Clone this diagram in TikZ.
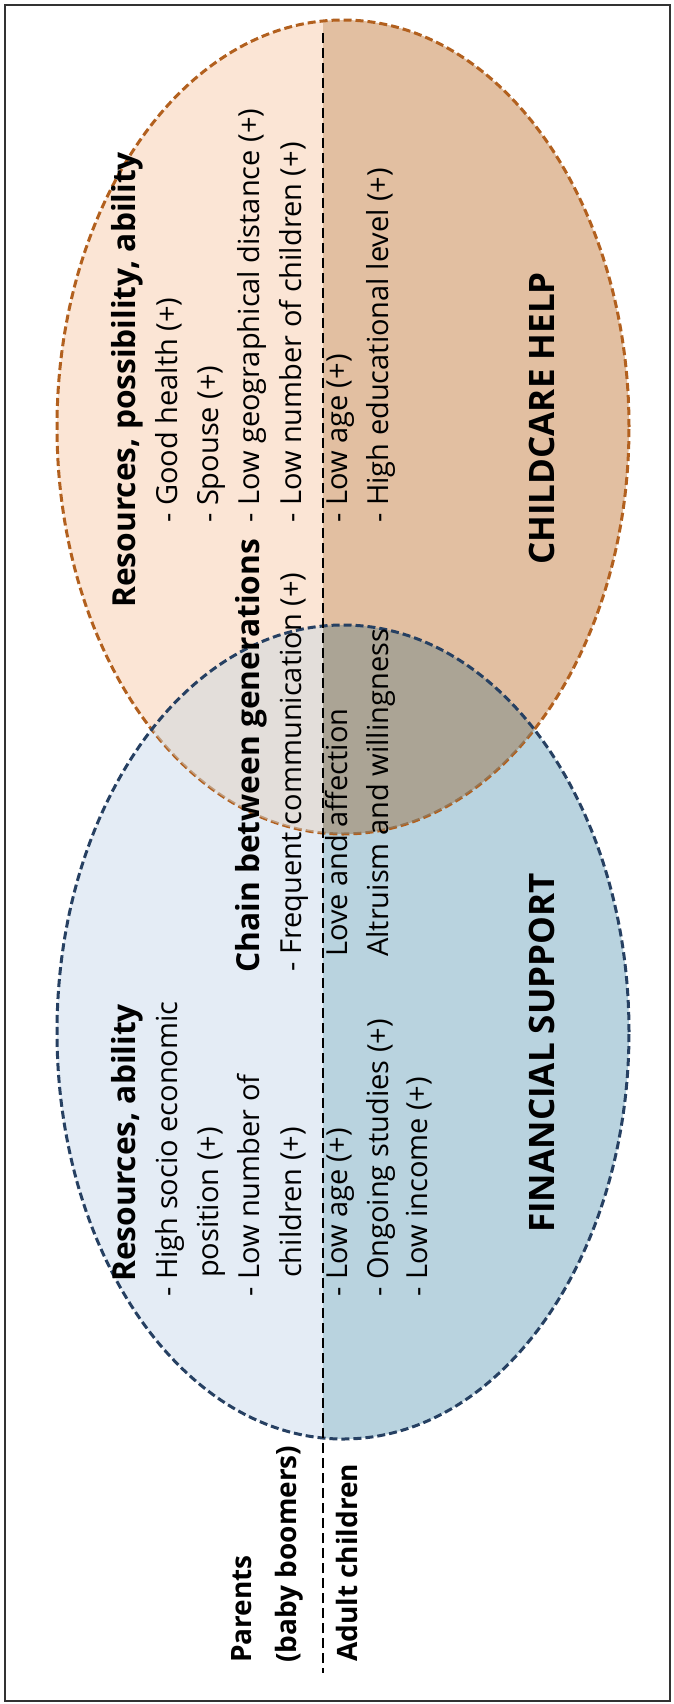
\documentclass[tikz,border=0pt]{standalone}
\usepackage{fontspec}
\setmainfont{Open Sans}
\definecolor{brL}{RGB}{251,229,213}
\definecolor{brD}{RGB}{226,191,161}
\definecolor{blL}{RGB}{228,236,245}
\definecolor{blD}{RGB}{185,211,223}
\definecolor{lnL}{RGB}{205,217,223}
\definecolor{lnD}{RGB}{118,139,139}
\definecolor{brO}{RGB}{178,96,30}
\definecolor{blO}{RGB}{38,64,98}
\begin{document}
\begin{tikzpicture}[x=1pt,y=1pt,
  body/.style={rotate=90, anchor=mid west, inner sep=0pt, font=\fontsize{29}{35}\selectfont},
  head/.style={rotate=90, anchor=mid west, inner sep=0pt, font=\fontsize{31.7}{38}\selectfont\bfseries},
  big/.style={rotate=90, anchor=mid west, inner sep=0pt, font=\fontsize{35}{42}\selectfont\bfseries},
  lab/.style={rotate=90, anchor=mid west, inner sep=0pt, font=\fontsize{28}{34}\selectfont\bfseries},
  outl/.style={line width=3pt, dash pattern=on 8pt off 4pt},
  divl/.style={line width=2.5pt, dash pattern=on 10pt off 5pt, black}]
\fill[white] (0,0) rectangle (674,-1704);
\useasboundingbox (0,0) rectangle (674,-1704);
% blue ellipse halves
\begin{scope}
\clip (343,-1032) ellipse [x radius=286, y radius=407];
\fill[blL] (0,-600) rectangle (323,-1500);
\fill[blD] (323,-600) rectangle (674,-1500);
\end{scope}
% brown ellipse halves
\begin{scope}
\clip (343,-427) ellipse [x radius=286, y radius=407];
\fill[brL] (0,0) rectangle (323,-900);
\fill[brD] (323,0) rectangle (674,-900);
\end{scope}
\draw[brO, outl] (343,-427) ellipse [x radius=286, y radius=407];
% lens
\begin{scope}
\clip (343,-427) ellipse [x radius=286, y radius=407];
\clip (343,-1032) ellipse [x radius=286, y radius=407];
\fill[lnL, opacity=0.5] (0,-600) rectangle (323,-900);
\fill[lnD, opacity=0.5] (323,-600) rectangle (674,-900);
\end{scope}
\draw[blO, outl] (343,-1032) ellipse [x radius=286, y radius=407];
% divider
\coordinate (dtop) at (323,-33);
\coordinate (dbot) at (323,-1673);
\draw[divl] (dtop) -- (dbot);
% border
\draw[line width=2.5pt, black!80] (5,-5) rectangle (670,-1701);
% brown texts
\node[head] (rpa) at (133,-608) {Resources, possibility, ability};
\node[body] (gh) at (175,-523) {- Good health (+)};
\node[body] (sp) at (216,-523) {- Spouse (+)};
\node[body] (lgd) at (257,-523) {- Low geographical distance (+)};
\node[body] (lnc) at (299,-523) {- Low number of children (+)};
\node[body] (la1) at (345,-523) {- Low age (+)};
\node[body] (hel) at (386,-523) {- High educational level (+)};
\node[big] (ch) at (552,-565) {CHILDCARE HELP};
% middle texts
\node[head] (cbg) at (257,-973) {Chain between generations};
\node[body] (fc) at (299,-972) {- Frequent communication (+)};
\node[body] (laf) at (345,-957) {Love and affection};
\node[body] (aw) at (386,-957) {Altruism and willingness};
% blue texts
\node[head] (ra) at (133,-1282) {Resources, ability};
\node[body] (hse) at (175,-1297) {- High socio economic};
\node[body] (pos) at (216,-1278) {position (+)};
\node[body] (lno) at (257,-1297) {- Low number of};
\node[body] (chi) at (299,-1278) {children (+)};
\node[body] (la2) at (345,-1297) {- Low age (+)};
\node[body] (os) at (386,-1297) {- Ongoing studies (+)};
\node[body] (li) at (425,-1297) {- Low income (+)};
\node[big] (fs) at (552,-1233) {FINANCIAL SUPPORT};
% side labels
\node[lab] (par) at (249,-1663) {Parents};
\node[lab] (bb) at (294,-1663) {(baby boomers)};
\node[lab] (ac) at (355,-1662) {Adult children};
\end{tikzpicture}
\end{document}
